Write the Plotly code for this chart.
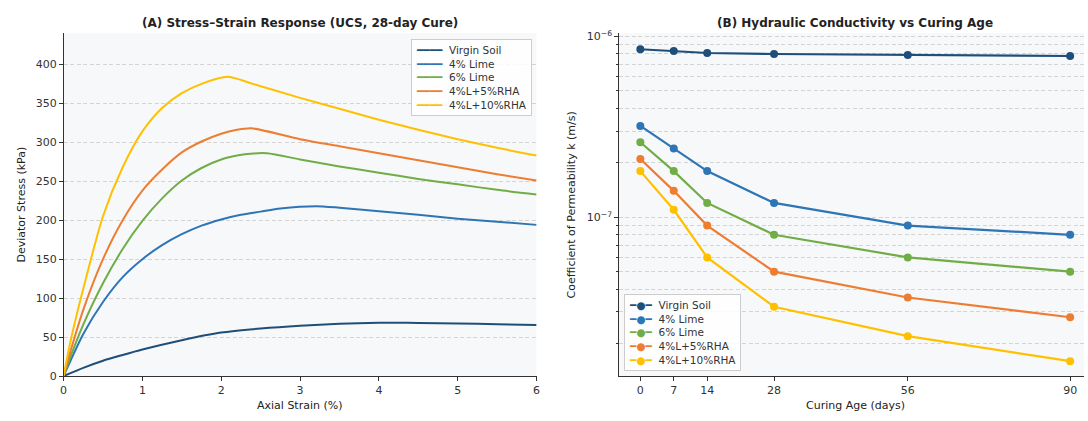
import plotly.graph_objects as go

# ---------------- Panel A: stress-strain ----------------
strain_virgin = [0, 0.25, 0.5, 0.75, 1.0, 1.5, 2.0, 2.5, 3.0, 3.5, 4.0, 4.2, 4.5, 5.0, 5.5, 6.0]
stress_virgin = [0, 10.5, 19.6, 27, 34, 46, 55.8, 61, 64.6, 67, 68.3, 68.5, 68.2, 67.5, 66.5, 65.4]

strain_lime4 = [0, 0.25, 0.5, 0.75, 1.0, 1.25, 1.5, 1.75, 2.0, 2.25, 2.5, 2.75, 3.2, 3.5, 4.0, 4.5, 5.0, 5.5, 6.0]
stress_lime4 = [0, 54, 95, 127, 150, 168, 182, 193, 201, 207, 211, 215, 218, 216, 211.5, 207, 202, 198, 194]

strain_lime6 = [0, 0.1, 0.25, 0.5, 0.75, 1.0, 1.25, 1.5, 1.75, 2.0, 2.3, 2.58, 3.0, 3.5, 4.0, 4.5, 5.0, 5.5, 6.0]
stress_lime6 = [0, 28, 66, 119, 163, 199, 228, 251, 267, 278, 284.5, 286, 278, 269, 261, 253, 246, 239, 233]

strain_rha5 = [0, 0.1, 0.25, 0.5, 0.75, 1.0, 1.25, 1.5, 1.75, 2.0, 2.2, 2.38, 3.0, 3.5, 4.0, 4.5, 5.0, 5.5, 6.0]
stress_rha5 = [0, 36, 85, 150, 200, 238, 265, 287, 301, 311, 316, 318, 304, 295, 286, 277, 268, 259, 251]

strain_rha10 = [0, 0.1, 0.25, 0.5, 0.75, 1.0, 1.25, 1.5, 1.75, 2.08, 2.4, 3.0, 3.5, 4.0, 4.5, 5.0, 5.5, 6.0]
stress_rha10 = [0, 50, 112, 205, 268, 314, 344, 363, 375, 384, 375, 357, 343, 329, 316, 304, 293, 283]

# ---------------- Panel B: permeability ----------------
days = [0, 7, 14, 28, 56, 90]
k_virgin = [8.5e-7, 8.3e-7, 8.1e-7, 8.0e-7, 7.9e-7, 7.8e-7]
k_lime4 = [3.2e-7, 2.4e-7, 1.8e-7, 1.2e-7, 9.0e-8, 8.0e-8]
k_lime6 = [2.6e-7, 1.8e-7, 1.2e-7, 8.0e-8, 6.0e-8, 5.0e-8]
k_rha5 = [2.1e-7, 1.4e-7, 9.0e-8, 5.0e-8, 3.6e-8, 2.8e-8]
k_rha10 = [1.8e-7, 1.1e-7, 6.0e-8, 3.2e-8, 2.2e-8, 1.6e-8]

names = ["Virgin Soil", "4% Lime", "6% Lime", "4%L+5%RHA", "4%L+10%RHA"]
colors = ["#1f4e79", "#2e75b6", "#70ad47", "#ed7d31", "#ffc000"]

x_ticks_a = [0, 1, 2, 3, 4, 5, 6]
y_ticks_a = [0, 50, 100, 150, 200, 250, 300, 350, 400]
x_ticks_b = [0, 7, 14, 28, 56, 90]

FONT = "DejaVu Sans"
W, H = 1088, 421

fig = go.Figure()

curves_a = [(strain_virgin, stress_virgin), (strain_lime4, stress_lime4), (strain_lime6, stress_lime6),
            (strain_rha5, stress_rha5), (strain_rha10, stress_rha10)]
for (xs, ys), nm, c in zip(curves_a, names, colors):
    fig.add_trace(go.Scatter(x=xs, y=ys, mode="lines", name=nm, showlegend=False,
                             line=dict(color=c, width=2, shape="spline", smoothing=0.7),
                             xaxis="x", yaxis="y"))

curves_b = [k_virgin, k_lime4, k_lime6, k_rha5, k_rha10]
for ys, nm, c in zip(curves_b, names, colors):
    fig.add_trace(go.Scatter(x=days, y=ys, mode="lines+markers", name=nm, showlegend=False,
                             line=dict(color=c, width=2.2),
                             marker=dict(color=c, size=8),
                             xaxis="x2", yaxis="y2"))

ydom = [39 / H, 391 / H]
grid = dict(showgrid=True, gridcolor="#d4d4d4", gridwidth=0.8, griddash="4px,2.5px")
axis_common = dict(showline=True, linecolor="#333333", linewidth=1, ticks="outside",
                   ticklen=3.5, tickwidth=1, tickcolor="#333333",
                   tickfont=dict(family=FONT, size=11, color="#333333"), zeroline=False)

minor_vals = [m * 1e-8 for m in range(2, 10)] + [m * 1e-7 for m in range(2, 10)]

fig.update_layout(
    width=W, height=H,
    margin=dict(l=0, r=0, t=0, b=0),
    paper_bgcolor="white",
    plot_bgcolor="#f7f8fa",
    font=dict(family=FONT, color="#333333"),
    showlegend=False,
    xaxis=dict(domain=[60 / W, 536.5 / W], range=[0, 6], tickvals=x_ticks_a,
               showgrid=False, anchor="y", **axis_common),
    yaxis=dict(domain=ydom, range=[0, 440], tickvals=y_ticks_a, anchor="x",
               **grid, **axis_common),
    xaxis2=dict(domain=[619.4 / W, 1.0], range=[-4.5, 92.9], tickvals=x_ticks_b,
                showgrid=False, anchor="y2", **axis_common),
    yaxis2=dict(domain=ydom, type="log", range=[-7.878, -5.982], anchor="x2",
                tickvals=[1e-7, 1e-6], ticktext=["10<sup>\u22127</sup>", "10<sup>\u22126</sup>"],
                minor=dict(tickvals=minor_vals, ticks="outside", ticklen=2, tickcolor="#333333",
                           showgrid=True, gridcolor="#d4d4d4", gridwidth=0.8, griddash="4px,2.5px"),
                **grid, **axis_common),
)

# compact legends (text-based, matching the reference's tight spacing)
leg_a = "<br>".join(f'<span style="color:{c}">\u2501\u2501\u2501\u2501</span>  {n}'
                    for n, c in zip(names, colors))
leg_b = "<br>".join(f'<span style="color:{c}">\u2501\u25cf\u2501</span>  {n}'
                    for n, c in zip(names, colors))

ann = [
    dict(text="<b>(A) Stress\u2013Strain Response (UCS, 28-day Cure)</b>", x=298 / W, y=(H - 19) / H,
         font=dict(size=12)),
    dict(text="<b>(B) Hydraulic Conductivity vs Curing Age</b>", x=857.7 / W, y=(H - 19) / H,
         font=dict(size=12)),
    dict(text="Axial Strain (%)", x=298 / W, y=(H - 412) / H, font=dict(size=11)),
    dict(text="Curing Age (days)", x=857.7 / W, y=(H - 412) / H, font=dict(size=11)),
    dict(text="Deviator Stress (kPa)", x=18 / W, y=(H - 206) / H, textangle=-90, font=dict(size=11)),
    dict(text="Coefficient of Permeability k (m/s)", x=572 / W, y=(H - 206) / H, textangle=-90,
         font=dict(size=11)),
]
for a in ann:
    a.update(xref="paper", yref="paper", xanchor="center", yanchor="middle", showarrow=False)
    a["font"].update(family=FONT, color="#222222")

ann.append(dict(text=leg_a, x=532 / W, y=(H - 36) / H, xref="paper", yref="paper",
                xanchor="right", yanchor="top", align="left", showarrow=False,
                bgcolor="rgba(255,255,255,0.85)", bordercolor="#cccccc", borderwidth=1, borderpad=4,
                font=dict(family=FONT, size=10.5, color="#333333")))
ann.append(dict(text=leg_b, x=624.5 / W, y=(H - 377) / H, xref="paper", yref="paper",
                xanchor="left", yanchor="bottom", align="left", showarrow=False,
                bgcolor="rgba(255,255,255,0.85)", bordercolor="#cccccc", borderwidth=1, borderpad=4,
                font=dict(family=FONT, size=10.5, color="#333333")))
fig.update_layout(annotations=ann)

fig.write_html("out.html", post_script="document.body.style.margin='0';")
